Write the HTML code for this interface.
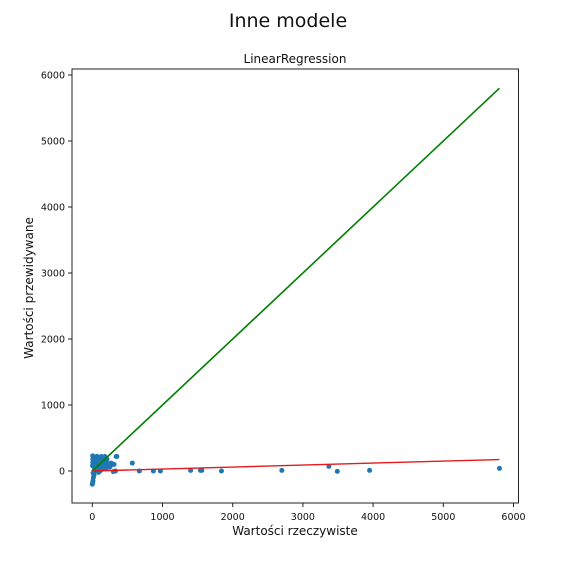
<!DOCTYPE html>
<html><head><meta charset="utf-8"><style>
body{margin:0;background:#fff;}
svg{display:block;font-family:"DejaVu Sans","Liberation Sans",sans-serif;}
</style></head><body>
<svg id="chart" width="576" height="576" viewBox="0 0 576 576">
<text x="288" y="27" font-size="19" text-anchor="middle" fill="#111">Inne modele</text>
<text x="295" y="63" font-size="12" text-anchor="middle" fill="#111">LinearRegression</text>
<text x="295" y="535" font-size="12" text-anchor="middle" fill="#111">Wartości rzeczywiste</text>
<text x="33" y="288" font-size="12" text-anchor="middle" fill="#111" transform="rotate(-90 33 288)">Wartości przewidywane</text>
<g id="plot"></g>
<rect x="72" y="69" width="446.5" height="434" fill="none" stroke="#222" stroke-width="1"/>
</svg>
<script>
const xTicks=[0,1000,2000,3000,4000,5000,6000];
const yTicks=[0,1000,2000,3000,4000,5000,6000];
const actual=[0,5,10,15,20,25,30,40,50,60,70,80,90,100,110,120,130,150,160,170,180,200,220,250,280,300,330,340,10,20,30,5,8,15,40,60,90,120,140,160,190,230,260,12,25,45,70,100,130,3,7,18,
200,240,270,310,350,150,180,210,60,80,100,45,35,20,
570,670,870,970,1400,1540,1560,1840,2700,3370,3490,3950,5800];
const predicted=[-200,-180,-150,-100,-50,0,50,100,150,200,220,180,120,60,200,150,220,100,160,80,220,130,90,60,100,-10,0,220,120,210,160,230,180,100,30,40,-20,10,70,50,140,110,80,-30,-60,20,0,-10,160,80,130,190,
40,70,120,100,220,40,60,180,220,210,170,200,150,90,
120,0,0,0,10,10,10,0,10,70,-5,10,40];
const lineX=[0,5800];
const fitSlope=0.03, fitIntercept=0;
const X0=92.3, XS=0.0702, Y0=471, YS=0.066;
const sx=v=>X0+v*XS, sy=v=>Y0-v*YS;
const ns='http://www.w3.org/2000/svg';
const g=document.getElementById('plot');
function mk(t,a){const e=document.createElementNS(ns,t);for(const k in a)e.setAttribute(k,a[k]);return e;}
xTicks.forEach(v=>{
  const l=mk('line',{x1:sx(v),x2:sx(v),y1:503,y2:507,stroke:'#222'});
  
  
  g.appendChild(l);
  const t=mk('text',{x:sx(v),y:520,'font-size':9.5,'text-anchor':'middle',fill:'#111'});
  t.textContent=v;
  
  
  g.appendChild(t);
});
yTicks.forEach(v=>{
  const l=mk('line',{x1:68,x2:72,y1:sy(v),y2:sy(v),stroke:'#222'});
  
  
  g.appendChild(l);
  const t=mk('text',{x:65,y:sy(v)+3.5,'font-size':9.5,'text-anchor':'end',fill:'#111'});
  t.textContent=v;
  
  
  g.appendChild(t);
});
actual.forEach((v,i)=>{
  const c=mk('circle',{cx:sx(v),cy:sy(predicted[i]),r:2.5,fill:'#1f77b4'});
  
  
  g.appendChild(c);
});
const gl=mk('line',{x1:sx(lineX[0]),y1:sy(lineX[0]),x2:sx(lineX[1]),y2:sy(lineX[1]),stroke:'#008000','stroke-width':1.6});


g.appendChild(gl);
const rl=mk('line',{x1:sx(lineX[0]),y1:sy(fitIntercept+fitSlope*lineX[0]),x2:sx(lineX[1]),y2:sy(fitIntercept+fitSlope*lineX[1]),stroke:'#e41a1c','stroke-width':1.4});


g.appendChild(rl);
</script>
</body></html>
